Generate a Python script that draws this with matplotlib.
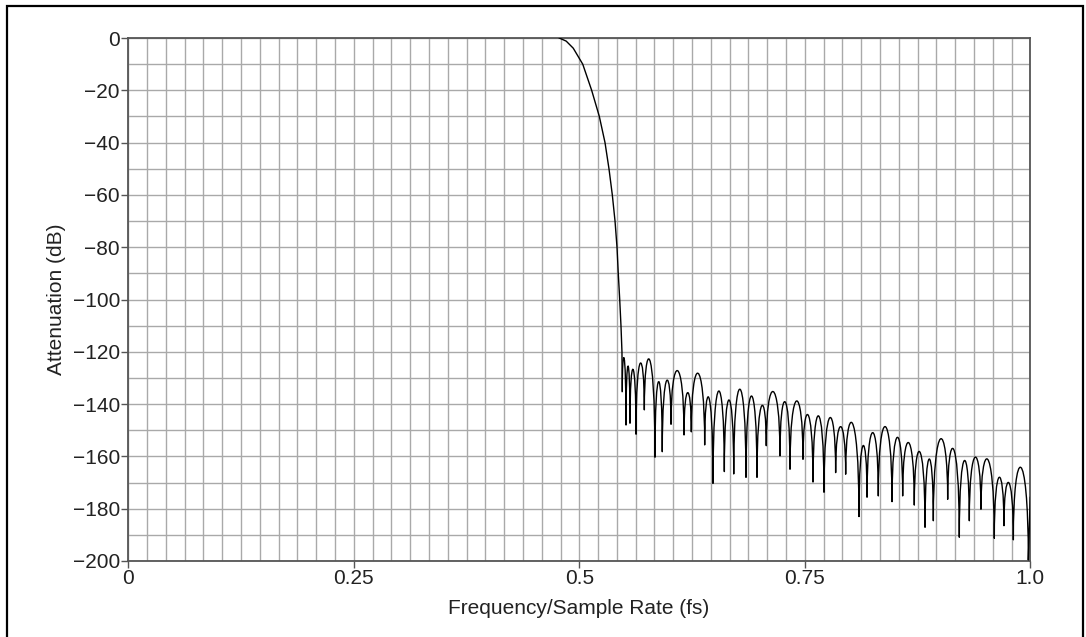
"""
Filter frequency response: attenuation vs normalised frequency.
Passband roll-off read point by point, stopband drawn as lobes between nulls.
"""

import matplotlib
matplotlib.use("Agg")
import matplotlib.pyplot as plt
from matplotlib.path import Path
from matplotlib.patches import PathPatch, Rectangle
from matplotlib.ticker import MultipleLocator

plt.rcParams['font.family'] = ['Liberation Sans', 'DejaVu Sans']

# Roll-off from the passband edge down into the stopband
trans_x = [0.4778, 0.4855, 0.4933, 0.5038, 0.5137, 0.5222, 0.5285, 0.5329,
           0.5366, 0.5396, 0.5418, 0.5432, 0.5448, 0.5462, 0.5473, 0.5476]
trans_db = [0.0, -1.2, -3.9, -10.0, -20.0, -30.0, -40.0, -50.0,
            -60.0, -70.0, -80.0, -90.0, -100.0, -110.0, -120.0, -135.2]

# Stopband nulls (frequency, dB)
null_x = [0.5476, 0.5518, 0.5562, 0.5629, 0.5721, 0.5839, 0.5920, 0.6017,
          0.6161, 0.6242, 0.6390, 0.6482, 0.6608, 0.6712, 0.6848, 0.6970,
          0.7073, 0.7225, 0.7336, 0.7480, 0.7591, 0.7713, 0.7842, 0.7953,
          0.8101, 0.8190, 0.8315, 0.8467, 0.8585, 0.8714, 0.8833, 0.8925,
          0.9084, 0.9213, 0.9324, 0.9453, 0.9601, 0.9708, 0.9812, 0.9978]
null_db = [-135.2, -148.0, -147.3, -151.5, -142.2, -160.3, -158.2, -147.7,
           -151.8, -150.6, -155.6, -170.3, -165.8, -166.7, -168.0, -168.0,
           -155.9, -159.8, -164.9, -161.1, -169.8, -173.7, -166.2, -166.8,
           -183.0, -175.6, -175.1, -177.3, -175.1, -178.6, -187.1, -184.6,
           -176.4, -190.9, -184.6, -180.2, -191.3, -186.5, -191.9, -199.6]

# Sidelobe peak level between consecutive nulls (dB)
peak_db = [-122.5, -125.4, -126.7, -124.4, -123.1, -131.4, -131.0, -127.2,
           -135.6, -128.2, -137.5, -135.0, -138.4, -134.3, -136.9, -140.7,
           -135.2, -139.1, -138.8, -144.1, -144.5, -145.2, -148.6, -147.3,
           -155.9, -150.9, -148.6, -152.7, -154.7, -158.2, -161.0, -153.3,
           -157.2, -161.6, -160.3, -161.1, -168.0, -170.0, -164.2]

# Value at the right edge (fs = 1.0)
end_x = 1.0
end_db = -175.4

x_ticks = [0, 0.25, 0.5, 0.75, 1.0]
x_tick_labels = ['0', '0.25', '0.5', '0.75', '1.0']
y_ticks = list(range(0, -201, -20))

SPINE = '#555555'
GRID = '#a9a9a9'
TEXT = '#222222'
FONT_SIZE = 15


def stopband_path():
    """Each sidelobe is a cubic Bezier from null to null, vertical at the nulls."""
    verts = [(null_x[0], null_db[0])]
    codes = [Path.MOVETO]
    for i, pk in enumerate(peak_db):
        x0, y0 = null_x[i], null_db[i]
        x1, y1 = null_x[i + 1], null_db[i + 1]
        # control height so that the curve's midpoint hits the peak level
        c = (pk - 0.125 * (y0 + y1)) / 0.75
        verts += [(x0, c), (x1, c), (x1, y1)]
        codes += [Path.CURVE4] * 3
    verts.append((end_x, end_db))
    codes.append(Path.LINETO)
    return Path(verts, codes)


fig = plt.figure(figsize=(10.86, 6.37), dpi=100)
ax = fig.add_axes([128.3 / 1086, 1 - 561 / 637, 902 / 1086, 523 / 637])

ax.plot(trans_x, trans_db, color='black', lw=1.0, solid_joinstyle='round', zorder=3)
ax.add_patch(PathPatch(stopband_path(), fill=False, edgecolor='black', lw=1.0,
                       joinstyle='round', zorder=3))

ax.set_xlim(0, 1.0)
ax.set_ylim(-200, 0)
ax.set_xticks(x_ticks)
ax.set_xticklabels(x_tick_labels)
ax.set_yticks(y_ticks)
ax.xaxis.set_minor_locator(MultipleLocator(1 / 48))
ax.yaxis.set_minor_locator(MultipleLocator(10))

ax.grid(True, which='both', color=GRID, lw=1.0, zorder=0)
ax.set_axisbelow(True)

ax.tick_params(which='major', direction='out', length=5, width=1.0, color=SPINE,
               labelsize=FONT_SIZE, labelcolor=TEXT, pad=1.0)
ax.tick_params(which='minor', length=0)
for s in ax.spines.values():
    s.set_color(SPINE)
    s.set_linewidth(1.3)

fig.text(56 / 1086, 1 - 299.5 / 637, 'Attenuation (dB)', rotation=90,
         ha='center', va='center', fontsize=FONT_SIZE, color=TEXT)
fig.text(579 / 1086, 1 - 608 / 637, 'Frequency/Sample Rate (fs)',
         ha='center', va='center', fontsize=FONT_SIZE, color=TEXT)

# black frame around the figure (open at the bottom, as in the source)
fig.add_artist(Rectangle((7 / 1086, -0.1), 1076 / 1086, 1.1 - 6 / 637,
                         transform=fig.transFigure, fill=False,
                         edgecolor='black', lw=1.6))

fig.savefig('out.png', dpi=100, facecolor='white')
